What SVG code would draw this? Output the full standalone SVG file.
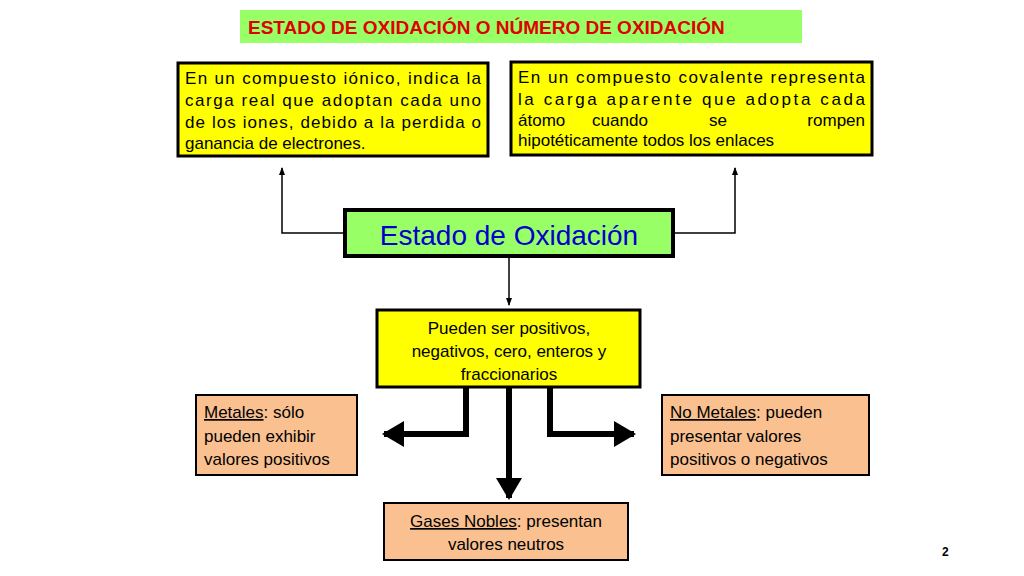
<svg xmlns="http://www.w3.org/2000/svg" width="1024" height="576" viewBox="0 0 1024 576">
<style>
text{font-family:"Liberation Sans",Arial,sans-serif;font-size:17px;fill:#000}
.y{fill:#ffff00;stroke:#000;stroke-width:3}
.o{fill:#fac090;stroke:#000;stroke-width:2}
.c{text-anchor:middle}
.thin{fill:none;stroke:#000;stroke-width:1.5}
.thick{fill:none;stroke:#000;stroke-width:6}
</style>
<defs>
<marker id="a" markerWidth="8" markerHeight="8" refX="7" refY="4" orient="auto" markerUnits="userSpaceOnUse"><path d="M0,1 L8,4 L0,7Z" fill="#000"/></marker>
<marker id="b" markerWidth="22" markerHeight="26" refX="20" refY="13" orient="auto" markerUnits="userSpaceOnUse"><path d="M0,0 L22,13 L0,26Z" fill="#000"/></marker>
</defs>
<rect width="1024" height="576" fill="#fff"/>
<g id="title"><rect x="240" y="10" width="562" height="33" fill="#99ff66"/>
<text x="248" y="34" style="font-size:19px;font-weight:bold;fill:#e00000">ESTADO DE OXIDACIÓN O NÚMERO DE OXIDACIÓN</text></g>
<g id="connectors">
<path class="thin" d="M345,233 H282 V168" marker-end="url(#a)"/>
<path class="thin" d="M673,233 H735 V168" marker-end="url(#a)"/>
<path class="thin" d="M509,256 V305" marker-end="url(#a)"/>
<path class="thick" d="M466,388 V434 H384" marker-end="url(#b)"/>
<path class="thick" d="M509,388 V498" marker-end="url(#b)"/>
<path class="thick" d="M550,388 V434 H634" marker-end="url(#b)"/>
</g>
<g id="ionico"><rect class="y" x="178" y="63" width="310" height="93"/>
<text x="185" y="84" textLength="296" lengthAdjust="spacing">En un compuesto iónico, indica la</text>
<text x="185" y="106" textLength="296" lengthAdjust="spacing">carga real que adoptan cada uno</text>
<text x="185" y="128" textLength="296" lengthAdjust="spacing">de los iones, debido a la perdida o</text>
<text x="185" y="149">ganancia de electrones.</text></g>
<g id="covalente"><rect class="y" x="511" y="62" width="361" height="93"/>
<text x="518" y="83" textLength="347" lengthAdjust="spacing">En un compuesto covalente representa</text>
<text x="518" y="105" textLength="347" lengthAdjust="spacing">la  carga  aparente  que  adopta  cada</text>
<text x="518" y="126">átomo</text><text x="620" y="126" class="c">cuando</text><text x="718" y="126" class="c">se</text><text x="865" y="126" style="text-anchor:end">rompen</text>
<text x="518" y="146">hipotéticamente todos los enlaces</text></g>
<g id="estado"><rect x="345" y="210" width="328" height="46" fill="#99ff66" stroke="#000" stroke-width="4"/>
<text x="509" y="245" class="c" style="font-size:28px;fill:#0000cc">Estado de Oxidación</text></g>
<g id="pueden"><rect class="y" x="377" y="310" width="263" height="77"/>
<text x="509" y="334" class="c">Pueden ser positivos,</text>
<text x="509" y="357" class="c">negativos, cero, enteros y</text>
<text x="509" y="380" class="c">fraccionarios</text></g>
<g id="metales"><rect class="o" x="196" y="395" width="161" height="80"/>
<text x="204" y="418"><tspan text-decoration="underline">Metales</tspan>: sólo</text>
<text x="204" y="442">pueden exhibir</text>
<text x="204" y="465">valores positivos</text></g>
<g id="nometales"><rect class="o" x="662" y="395" width="207" height="80"/>
<text x="670" y="418"><tspan text-decoration="underline">No Metales</tspan>: pueden</text>
<text x="670" y="442">presentar valores</text>
<text x="670" y="465">positivos o negativos</text></g>
<g id="gases"><rect class="o" x="384" y="503" width="244" height="57"/>
<text x="506" y="527" class="c"><tspan text-decoration="underline">Gases Nobles</tspan>: presentan</text>
<text x="506" y="550" class="c">valores neutros</text></g>
<text x="942" y="556" style="font-size:12px;font-weight:bold">2</text>
</svg>
